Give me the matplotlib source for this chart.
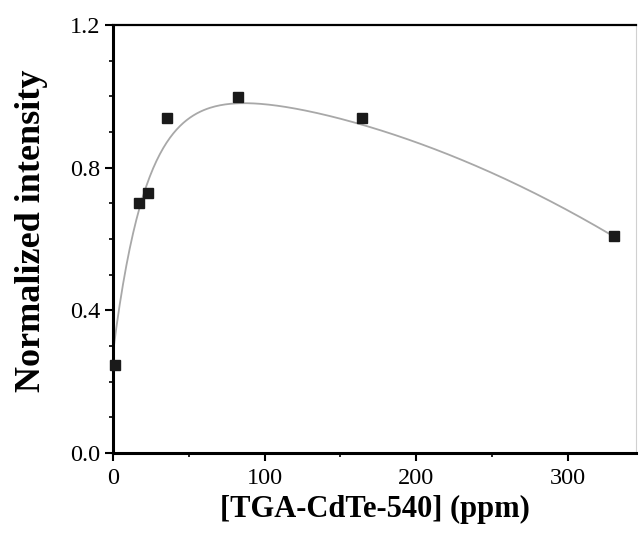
import numpy as np
import matplotlib.pyplot as plt
from matplotlib.ticker import MultipleLocator

# measured points
conc = [1.5, 17.3, 23.3, 35.8, 82.6, 164.3, 330.5]
intensity = [0.247, 0.70, 0.729, 0.939, 0.998, 0.939, 0.608]

# fitted curve parameters: y = y0 + A*(1 - exp(-x/t)) - c*x^2
fit_y0 = 0.28
fit_A = 0.744
fit_t = 22.0
fit_c = 3.82e-6

plt.rcParams['font.family'] = ['Liberation Serif', 'DejaVu Serif']

fig = plt.figure(figsize=(6.39, 5.46), dpi=100)
ax = fig.add_axes([0.1768, 0.1703, 0.8185, 0.7839])

xfit = np.linspace(0, max(conc), 300)
yfit = fit_y0 + fit_A * (1 - np.exp(-xfit / fit_t)) - fit_c * xfit ** 2
ax.plot(xfit, yfit, color='#a8a8a8', lw=1.3, zorder=2)
ax.plot(conc, intensity, 's', color='#1a1a1a', ms=6.5, zorder=3, clip_on=False)

ax.set_xlim(0, 345)
ax.set_ylim(0, 1.2)
ax.xaxis.set_major_locator(MultipleLocator(100))
ax.xaxis.set_minor_locator(MultipleLocator(50))
ax.yaxis.set_major_locator(MultipleLocator(0.4))
ax.yaxis.set_minor_locator(MultipleLocator(0.1))
ax.yaxis.set_major_formatter(plt.FuncFormatter(lambda v, p: f'{v:.1f}'))

ax.tick_params(which='major', direction='out', length=6, width=1.5,
               labelsize=17.5, top=False, right=False)
ax.tick_params(axis='x', which='major', pad=5)
ax.tick_params(axis='y', which='major', pad=3)
ax.tick_params(which='minor', direction='out', length=3, width=1.2,
               top=False, right=False)

for s in ['left', 'bottom']:
    ax.spines[s].set_linewidth(2.2)
ax.spines['top'].set_linewidth(1.6)
ax.spines['right'].set_linewidth(0.8)
ax.spines['right'].set_color('#d0d0d0')

ax.set_xlabel('[TGA-CdTe-540] (ppm)', fontsize=22, fontweight='bold', labelpad=4)
ax.set_ylabel('Normalized intensity', fontsize=26, fontweight='bold', labelpad=12)
ax.yaxis.set_label_coords(-0.125, 0.52)

fig.savefig('out.png', dpi=100)
